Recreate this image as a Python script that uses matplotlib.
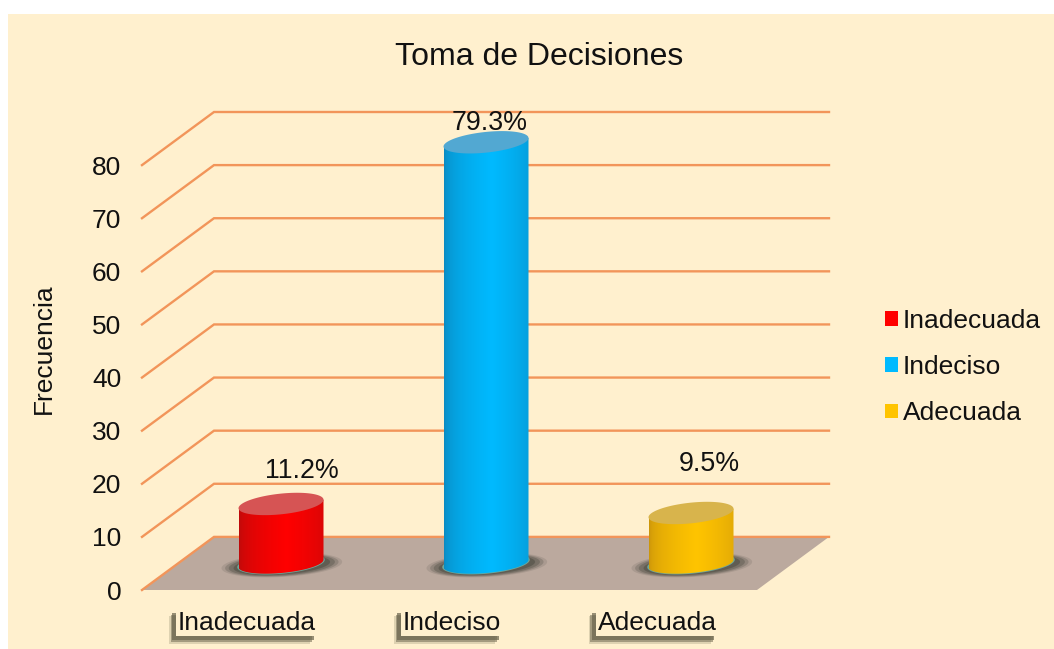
import numpy as np
import matplotlib
matplotlib.use("Agg")
import matplotlib.pyplot as plt
import matplotlib.patheffects as pe
from matplotlib.patches import Patch, Polygon, Rectangle

categories = ["Inadecuada", "Indeciso", "Adecuada"]
values = [11.2, 79.3, 9.5]
labels = ["11.2%", "79.3%", "9.5%"]
yticks = [0, 10, 20, 30, 40, 50, 60, 70, 80]

W, H = 1054, 649
PANEL = "#FFF0CE"
GRID = "#F2955A"
FLOOR = "#BBA99E"
main_colors = ["#FF0000", "#00BAFF", "#FFC400"]
edge_colors = ["#B80C0C", "#0B86BC", "#C8920C"]
cap_colors = ["#D65454", "#52A8D2", "#D8B44C"]
# where each percent label sits relative to the top of its bar
label_dx = [0.102, 0.02, 0.088]
label_dy = [6.2, 3.6, 9.2]

plt.rcParams["font.family"] = ["Liberation Sans", "DejaVu Sans"]

fig = plt.figure(figsize=(W / 100, H / 100), dpi=100, facecolor="white")
fig.add_artist(Rectangle((8 / W, 0), 1 - 8 / W, 1 - 14 / H, transform=fig.transFigure,
                         fc=PANEL, ec="none", zorder=-5))

# axes box = front left corner of the floor up to the top of the back wall
ax = fig.add_axes([142 / W, 1 - 590 / H, (829 - 142) / W, (590 - 112) / H])
ax.patch.set_visible(False)
x0, x1 = (142 - 247) / 205, (829 - 247) / 205
depth_x = 72 / 205
depth_y = 10
bar_shift = 34 / 205

# floor
ax.add_patch(Polygon([(x0, 0), (x0 + depth_x, depth_y), (x1, depth_y), (x1 - depth_x, 0)],
                     fc=FLOOR, ec="none", zorder=1))

# gridlines bent around the side wall
for v in yticks:
    ax.plot([x0, x0 + depth_x, x1], [v, v + depth_y, v + depth_y], color=GRID, lw=1.7,
            solid_joinstyle="miter", zorder=2, clip_on=False)


def ellipse(cx, cy, a, b, tilt, n=120):
    t = np.linspace(0, 2 * np.pi, n)
    return cx + a * np.cos(t), cy + tilt * np.cos(t) + b * np.sin(t)


half = 42.5 / 205
for i, val in enumerate(values):
    cx = i + bar_shift
    cy = depth_y / 2

    # soft shadow on the floor
    for grow, al in [(1.0, 0.15), (0.94, 0.25), (0.88, 0.35), (0.8, 0.5)]:
        ex, ey = ellipse(cx + 0.004, cy - 0.3, half * 1.42 * grow, 2.25 * grow, 0.6)
        ax.fill(ex, ey, color="#4A4A40", alpha=al, lw=0, zorder=3)
    ex, ey = ellipse(cx, cy, half * 1.03, 1.95, 0.7)
    ax.fill(ex, ey, color="#6FA89A", lw=0, zorder=3)

    # body: lower half of the base ellipse + upper half of the top ellipse
    t = np.linspace(np.pi, 2 * np.pi, 80)
    bx = cx + half * np.cos(t)
    by = cy + 0.7 * np.cos(t) + 1.8 * np.sin(t)
    tx, ty = ellipse(cx, cy + val, half, 1.95, 0.8)
    body = Polygon(np.column_stack([np.r_[bx, bx[-1], bx[0]], np.r_[by, val + cy + 0.8, val + cy - 0.8]]),
                   transform=ax.transData, fc="none", ec="none")
    ax.add_patch(body)

    # horizontal shading, brightest right of centre
    s = np.linspace(0, 1, 256)
    w = np.clip(1 - np.abs(s - 0.56) / 0.56, 0, 1) ** 0.45
    c_edge = np.array(matplotlib.colors.to_rgb(edge_colors[i]))
    c_main = np.array(matplotlib.colors.to_rgb(main_colors[i]))
    grad = (c_edge[None, :] * (1 - w[:, None]) + c_main[None, :] * w[:, None])[None, :, :]
    im = ax.imshow(grad, extent=[cx - half, cx + half, cy - 3, cy + val + 3], aspect="auto",
                   zorder=4, interpolation="bilinear")
    im.set_clip_path(body)

    ax.fill(tx, ty, color=cap_colors[i], lw=0, zorder=5)
    ax.text(cx + label_dx[i], cy + val + label_dy[i], labels[i], ha="center", va="center",
            fontsize=19.3, color="#111111", zorder=6)

ax.set_xlim(x0, x1)
ax.set_ylim(0, 90)
ax.set_xticks(range(len(categories)))
ax.set_xticklabels(categories, fontsize=19, color="#111111")
ax.set_yticks(yticks)
ax.tick_params(axis="y", length=0, pad=15, labelsize=19, labelcolor="#111111")
ax.tick_params(axis="x", length=0, pad=15)
for sp in ax.spines.values():
    sp.set_visible(False)

# boxed category labels with a shadow to the lower left
for tl in ax.get_xticklabels():
    tl.set_bbox(dict(boxstyle="square,pad=0.06", fc=PANEL, ec="none"))
    tl.get_bbox_patch().set_path_effects([
        pe.SimplePatchShadow(offset=(-5.2, -5.2), shadow_rgbFace="#A39A7C", alpha=0.35),
        pe.SimplePatchShadow(offset=(-4, -4), shadow_rgbFace="#7D765C", alpha=0.6),
        pe.SimplePatchShadow(offset=(-2.8, -2.8), shadow_rgbFace="#6B654E", alpha=0.7),
        pe.Normal(),
    ])

ax.set_ylabel("Frecuencia", fontsize=19, color="#111111")
ax.yaxis.set_label_coords((56 - 142) / (829 - 142), (590 - 349) / (590 - 112))

fig.text(539 / W, 1 - 57 / H, "Toma de Decisiones", ha="center", va="center", fontsize=23, color="#111111")

handles = [Patch(fc=c, ec="none", label=n) for c, n in zip(main_colors, categories)]
fig.legend(handles=handles, loc="center left", bbox_to_anchor=(885 / W, 1 - 367 / H), frameon=False,
           fontsize=19, handlelength=0.49, handleheight=0.49, handletextpad=0.19, labelspacing=0.85,
           borderpad=0, borderaxespad=0, labelcolor="#111111")

fig.savefig("out.png", dpi=100)
